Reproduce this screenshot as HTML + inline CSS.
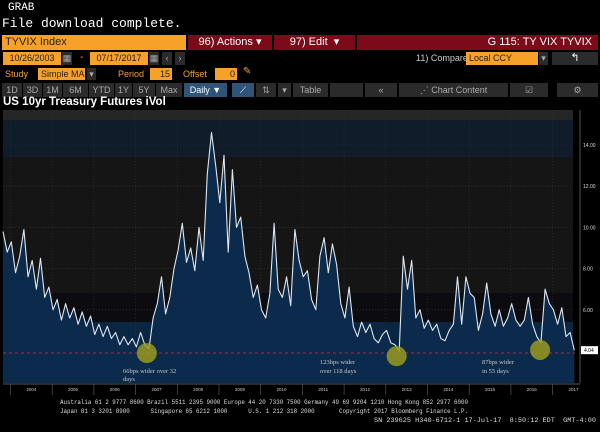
<!DOCTYPE html>
<html><head><meta charset="utf-8">
<style>
body{margin:0;width:600px;height:432px;background:#000;overflow:hidden;position:relative;font-family:"Liberation Sans",sans-serif;color:#fff}
.a{position:absolute;white-space:nowrap}
.mono{font-family:"Liberation Mono",monospace}
.or{background:#f7a128;color:#222;font-size:10px;line-height:14px;padding-left:3px;box-sizing:border-box;overflow:hidden}
.rd{background:#7c0a18;color:#fff;font-size:11px;line-height:15px}
.gb{background:#2b2b2b;color:#aaa;font-size:9px;line-height:13px;text-align:center}
.ol{color:#f7a128;font-size:9px;line-height:12px}
</style></head><body>
<div class="a mono" style="left:8px;top:2px;font-size:11px">GRAB</div>
<div class="a mono" style="left:2px;top:16px;font-size:13px">File download complete.</div>

<div class="a or" style="left:2px;top:35px;width:184px;height:15px;font-size:11px">TYVIX Index</div>
<div class="a rd" style="left:188px;top:35px;width:84px;height:15px;text-align:center">96) Actions ▾</div>
<div class="a rd" style="left:274px;top:35px;width:81px;height:15px;text-align:center">97) Edit &nbsp;▾</div>
<div class="a rd" style="left:357px;top:35px;width:241px;height:15px;text-align:right;padding-right:6px;box-sizing:border-box">G 115: TY VIX TYVIX</div>

<div class="a or" style="left:3px;top:52px;width:58px;height:13px;line-height:13px;font-size:9px;text-align:center;padding:0">10/26/2003</div>
<div class="a gb" style="left:62px;top:52px;width:10px;height:13px">▦</div>
<div class="a" style="left:80px;top:52px;font-size:10px;color:#f7a128">-</div>
<div class="a or" style="left:90px;top:52px;width:58px;height:13px;line-height:13px;font-size:9px;text-align:center;padding:0">07/17/2017</div>
<div class="a gb" style="left:149px;top:52px;width:10px;height:13px">▦</div>
<div class="a gb" style="left:162px;top:52px;width:10px;height:13px">‹</div>
<div class="a gb" style="left:175px;top:52px;width:10px;height:13px">›</div>
<div class="a" style="left:416px;top:53px;font-size:9px;color:#ccc">11) Compare</div>
<div class="a or" style="left:466px;top:52px;width:72px;height:13px;line-height:13px;font-size:9px">Local CCY</div>
<div class="a gb" style="left:539px;top:52px;width:9px;height:13px">▾</div>
<div class="a gb" style="left:552px;top:52px;width:46px;height:13px;color:#fff;font-size:11px">↰</div>

<div class="a ol" style="left:5px;top:68px">Study</div>
<div class="a or" style="left:38px;top:68px;width:47px;height:12px;line-height:12px;font-size:9px">Simple MA</div>
<div class="a gb" style="left:87px;top:68px;width:9px;height:12px">▾</div>
<div class="a ol" style="left:118px;top:68px">Period</div>
<div class="a or" style="left:150px;top:68px;width:22px;height:12px;line-height:12px;font-size:9px;text-align:right;padding-right:2px">15</div>
<div class="a ol" style="left:183px;top:68px">Offset</div>
<div class="a or" style="left:215px;top:68px;width:22px;height:12px;line-height:12px;font-size:9px;text-align:right;padding-right:2px">0</div>
<div class="a" style="left:243px;top:66px;font-size:10px;color:#f7a128">✎</div>

<div class="a gb" style="left:2px;top:83px;width:20px;height:14px;line-height:14px">1D</div>
<div class="a gb" style="left:23px;top:83px;width:19px;height:14px;line-height:14px">3D</div>
<div class="a gb" style="left:43px;top:83px;width:19px;height:14px;line-height:14px">1M</div>
<div class="a gb" style="left:63px;top:83px;width:25px;height:14px;line-height:14px">6M</div>
<div class="a gb" style="left:89px;top:83px;width:25px;height:14px;line-height:14px">YTD</div>
<div class="a gb" style="left:115px;top:83px;width:17px;height:14px;line-height:14px">1Y</div>
<div class="a gb" style="left:133px;top:83px;width:22px;height:14px;line-height:14px">5Y</div>
<div class="a gb" style="left:156px;top:83px;width:26px;height:14px;line-height:14px">Max</div>
<div class="a gb" style="left:184px;top:83px;width:43px;height:14px;line-height:14px;background:#2e5478;color:#fff">Daily ▼</div>
<div class="a gb" style="left:232px;top:83px;width:22px;height:14px;line-height:14px;background:#2e5478;color:#fff">⟋</div>
<div class="a gb" style="left:256px;top:83px;width:20px;height:14px;line-height:14px">⇅</div>
<div class="a gb" style="left:278px;top:83px;width:13px;height:14px;line-height:14px">▾</div>
<div class="a gb" style="left:293px;top:83px;width:35px;height:14px;line-height:14px">Table</div>
<div class="a gb" style="left:330px;top:83px;width:33px;height:14px;line-height:14px"></div>
<div class="a gb" style="left:365px;top:83px;width:32px;height:14px;line-height:14px">«</div>
<div class="a gb" style="left:399px;top:83px;width:109px;height:14px;line-height:14px">⋰ Chart Content</div>
<div class="a gb" style="left:510px;top:83px;width:38px;height:14px;line-height:14px">☑</div>
<div class="a gb" style="left:557px;top:83px;width:41px;height:14px;line-height:14px">⚙</div>

<div class="a" style="left:3px;top:96px;font-size:11.5px;line-height:12px;font-weight:bold">US 10yr Treasury Futures iVol</div>

<svg class="a" style="left:0;top:0" width="600" height="432">
<g id="bg"></g><g id="grid"></g><g id="series"></g><g id="ann"></g><g id="axes"></g>
<g font-family="Liberation Mono, monospace" font-size="6.5" fill="#ddd">
<text x="60" y="404" textLength="408" lengthAdjust="spacingAndGlyphs">Australia 61 2 9777 8600 Brazil 5511 2395 9000 Europe 44 20 7330 7500 Germany 49 69 9204 1210 Hong Kong 852 2977 6000</text>
<text x="60" y="413" textLength="408" lengthAdjust="spacingAndGlyphs" xml:space="preserve">Japan 81 3 3201 8900      Singapore 65 6212 1000      U.S. 1 212 318 2000       Copyright 2017 Bloomberg Finance L.P.</text>
<text x="374" y="422" textLength="222" lengthAdjust="spacingAndGlyphs" xml:space="preserve">SN 239625 H340-6712-1 17-Jul-17  8:50:12 EDT  GMT-4:00</text>
</g>
</svg>

<script>
const startYear = 2003.82;
const stepYears = 0.1;
const values = [9.8,8.8,9.3,7.8,8.6,9.9,7.6,8.4,7.0,8.5,6.6,7.1,6.0,6.5,5.5,6.3,5.6,6.1,5.3,5.9,5.2,5.7,4.8,5.3,4.7,5.2,4.6,4.9,4.3,4.7,4.3,4.6,4.2,4.9,4.3,4.1,5.6,6.3,7.6,5.8,6.6,8.0,8.9,10.2,8.3,9.0,7.9,10.0,8.4,12.6,14.6,13.0,11.2,13.5,8.8,12.8,10.0,10.5,8.6,7.8,6.6,7.2,6.0,5.6,6.8,10.2,7.0,6.6,7.6,6.2,9.9,8.4,7.6,7.9,6.5,6.0,8.6,9.5,7.8,9.2,8.2,6.3,5.6,7.1,5.2,4.7,5.4,4.9,5.3,4.6,4.4,4.8,5.0,4.4,4.3,4.0,8.6,7.0,8.4,5.6,6.0,5.1,5.5,5.0,5.3,4.6,4.5,5.0,5.3,7.6,5.3,7.6,6.8,6.6,5.0,5.8,7.3,5.8,5.2,6.0,5.2,5.6,6.3,5.5,5.2,5.5,6.6,5.3,4.7,4.4,7.0,6.3,6.0,5.3,6.1,4.7,4.9,4.04];
const yTicks = [6,8,10,12,14];
const yearLabels = [2004,2005,2006,2007,2008,2009,2010,2011,2012,2013,2014,2015,2016,2017];
const thresholdValue = 3.9;
const lastValue = 4.04;
const circleDates = [2007.27, 2013.26, 2016.70];
const circleValues = [3.9, 3.75, 4.05];

const NS="http://www.w3.org/2000/svg";
const X0=3,X1=573,Y0=110,Y1=383;
const xs=t=>3+(t-2003.82)*41.7;
const ys=v=>145+(14-v)*20.6;
function mk(tag,attrs,parent,txt){const e=document.createElementNS(NS,tag);for(const k in attrs)e.setAttribute(k,attrs[k]);if(txt!==undefined)e.textContent=txt;document.getElementById(parent).appendChild(e);return e;}

let r;
r=mk('rect',{x:X0,y:Y0,width:X1-X0,height:Y1-Y0,fill:'#0b1a2c'},'bg');

r=mk('rect',{x:X0,y:Y0,width:X1-X0,height:10,fill:'#262626'},'bg');

r=mk('rect',{x:X0,y:120,width:X1-X0,height:37,fill:'#111c2a'},'bg');

r=mk('rect',{x:X0,y:157,width:X1-X0,height:136,fill:'#151515'},'bg');

r=mk('rect',{x:X0,y:293,width:X1-X0,height:29,fill:'#0c0c10'},'bg');

r=mk('rect',{x:X0,y:322,width:X1-X0,height:61,fill:'#0a2642'},'bg');


yTicks.forEach(v=>{const g=mk('line',{x1:X0,x2:X1,y1:ys(v),y2:ys(v),stroke:'#3a3a3a','stroke-width':0.6,'stroke-dasharray':'1,2'},'grid');
});
yearLabels.forEach(yr=>{const g=mk('line',{x1:xs(yr),x2:xs(yr),y1:Y0,y2:Y1,stroke:'#333','stroke-width':0.6,'stroke-dasharray':'1,2'},'grid');
});

let pts=values.map((v,i)=>[xs(startYear+i*stepYears),ys(v)]);
let d='M'+pts.map(p=>p[0].toFixed(1)+','+p[1].toFixed(1)).join('L');
const area=mk('path',{d:d+`L${pts[pts.length-1][0].toFixed(1)},${Y1}L${pts[0][0].toFixed(1)},${Y1}Z`,fill:'#0b2a4c'},'series');

const line=mk('path',{d:d,fill:'none',stroke:'#dfe6ee','stroke-width':1.1,'stroke-linejoin':'round'},'series');


const th=mk('line',{x1:X0,x2:X1+2,y1:ys(thresholdValue),y2:ys(thresholdValue),stroke:'#c0202a','stroke-width':1,'stroke-dasharray':'3,3'},'ann');


circleDates.forEach((t,i)=>{const c=mk('circle',{cx:xs(t),cy:ys(circleValues[i]),r:10,fill:'#9a9a22','fill-opacity':0.85},'ann');
});

const notes=[[123,373,'66bps wider over 32'],[123,381,'days'],[320,364,'123bps wider'],[320,373,'over 118 days'],[482,364,'87bps wider'],[482,373,'in 55 days']];
notes.forEach(n=>{const t=mk('text',{x:n[0],y:n[1],fill:'#c8c8c8','font-size':6.5,'font-family':'Liberation Serif,serif'},'ann',n[2]);
});

const ax=mk('line',{x1:580,x2:580,y1:Y0,y2:Y1,stroke:'#777','stroke-width':0.7},'axes');

yTicks.forEach(v=>{const t=mk('text',{x:583,y:ys(v)+2,fill:'#ddd','font-size':5,'font-family':'Liberation Sans,sans-serif'},'axes',v.toFixed(2));
});
const lb=mk('rect',{x:581,y:ys(lastValue)-4,width:17,height:8,fill:'#fff'},'axes');

const lt=mk('text',{x:584,y:ys(lastValue)+2,fill:'#000','font-size':5,'font-family':'Liberation Sans,sans-serif'},'axes',lastValue.toFixed(2));

const xa=mk('line',{x1:X0,x2:580,y1:Y1+1,y2:Y1+1,stroke:'#777','stroke-width':0.7},'axes');

yearLabels.forEach(yr=>{
 const tk=mk('line',{x1:xs(yr),x2:xs(yr),y1:Y1+1,y2:Y1+12,stroke:'#555','stroke-width':0.7},'axes');
 
 const t=mk('text',{x:xs(yr+0.5),y:Y1+8,fill:'#ccc','font-size':4.5,'text-anchor':'middle','font-family':'Liberation Sans,sans-serif'},'axes',String(yr));
 });
</script>
</body></html>
